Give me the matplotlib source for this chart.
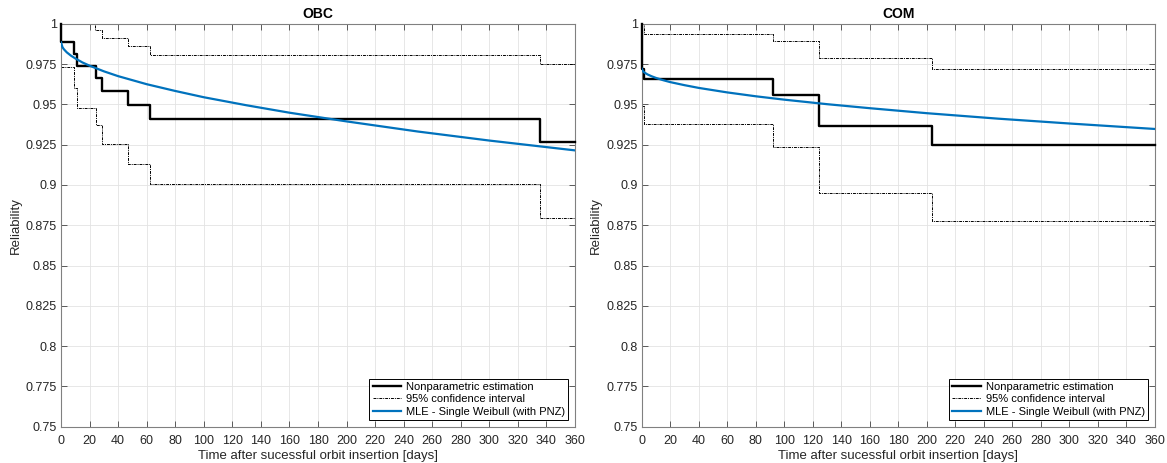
import numpy as np
import matplotlib.pyplot as plt
from matplotlib.ticker import FuncFormatter

plt.rcParams['font.family'] = ['Liberation Sans', 'DejaVu Sans']

# OBC - nonparametric (Kaplan-Meier style) estimate, step times in days
obc_km_t = [0, 0, 9, 11, 24.5, 29, 47, 62, 335.5, 360]
obc_km_r = [1.0, 0.9886, 0.9812, 0.9737, 0.9663, 0.9585, 0.9498, 0.941, 0.927, 0.927]
obc_up_t = [0, 24, 29, 47, 62, 335.5, 360]
obc_up_r = [1.0, 0.996, 0.991, 0.9865, 0.981, 0.975, 0.975]
obc_lo_t = [0, 9, 11, 24.5, 29, 47, 62, 335.5, 360]
obc_lo_r = [0.9733, 0.960, 0.948, 0.937, 0.9254, 0.9133, 0.9008, 0.8796, 0.8796]

# OBC - MLE single Weibull (with PNZ)
obc_fit_t = [0, 1, 2, 4, 7, 10, 15, 20, 30, 40, 60, 80, 100, 130, 160, 200, 250, 300, 360]
obc_fit_r = [0.9886, 0.9856, 0.9843, 0.9824, 0.9803, 0.9786, 0.9761, 0.9741, 0.9706,
             0.9676, 0.9626, 0.9584, 0.9545, 0.9495, 0.9449, 0.9395, 0.9332, 0.9276, 0.9215]

# COM
com_km_t = [0, 0, 1.4, 92.4, 124.4, 203.5, 360]
com_km_r = [1.0, 0.9723, 0.9656, 0.956, 0.9369, 0.9248, 0.9248]
com_up_t = [0, 1.4, 92.4, 124.4, 203.5, 360]
com_up_r = [1.0, 0.9936, 0.9892, 0.9786, 0.9723, 0.9723]
com_lo_t = [0, 1.4, 92.4, 124.4, 203.5, 360]
com_lo_r = [0.949, 0.938, 0.9238, 0.8952, 0.8775, 0.8775]

com_fit_t = [0, 1, 2, 4, 7, 10, 15, 20, 30, 40, 60, 80, 100, 130, 160, 200, 250, 300, 360]
com_fit_r = [0.9723, 0.9705, 0.9698, 0.9687, 0.9675, 0.9665, 0.9651, 0.9639, 0.9620,
             0.9603, 0.9575, 0.9551, 0.9530, 0.9502, 0.9477, 0.9446, 0.9412, 0.9382, 0.9348]

blue = '#0072BD'
ci_style = (0, (3, 1, 1, 1))
txt = '#262626'


def draw(ax, title, km, up, lo, fit):
    ax.step(km[0], km[1], where='post', color='black', lw=1.7, clip_on=False, zorder=4,
            label='Nonparametric estimation')
    ax.step(up[0], up[1], where='post', color='black', lw=0.7, ls=ci_style, clip_on=False,
            label='95% confidence interval')
    ax.step(lo[0], lo[1], where='post', color='black', lw=0.7, ls=ci_style, clip_on=False)
    ax.plot(fit[0], fit[1], color=blue, lw=1.6, zorder=5,
            label='MLE - Single Weibull (with PNZ)')

    ax.set_xlim(0, 360)
    ax.set_ylim(0.75, 1.0)
    ax.set_xticks(np.arange(0, 361, 20))
    ax.set_yticks(np.arange(0.75, 1.0001, 0.025))
    ax.yaxis.set_major_formatter(FuncFormatter(lambda v, p: '%g' % round(v, 3)))
    ax.grid(True, color='#e3e3e3', lw=0.6)
    ax.set_axisbelow(True)
    ax.tick_params(direction='in', top=True, right=True, length=4, width=0.6,
                   labelsize=9, colors=txt, color='#444444', pad=3)
    ax.tick_params(axis='x', pad=6)
    for s in ax.spines.values():
        s.set_color('#808080')
        s.set_linewidth(0.8)
    ax.set_title(title, fontsize=10, fontweight='bold', color='black', pad=4)
    ax.set_xlabel('Time after sucessful orbit insertion [days]', fontsize=9.5, color=txt, labelpad=2)
    ax.set_ylabel('Reliability', fontsize=9.5, color=txt, labelpad=3)
    leg = ax.legend(loc='lower right', fontsize=8, fancybox=False, framealpha=1,
                    edgecolor='black', handlelength=2.6, borderaxespad=0.6,
                    borderpad=0.3, labelspacing=0.2, handletextpad=0.4)
    leg.get_frame().set_linewidth(0.7)


fig = plt.figure(figsize=(11.67, 4.63), dpi=100)
ax1 = fig.add_axes([0.0523, 0.0788, 0.4404, 0.8694])
ax2 = fig.add_axes([0.5499, 0.0788, 0.4396, 0.8694])

draw(ax1, 'OBC', (obc_km_t, obc_km_r), (obc_up_t, obc_up_r), (obc_lo_t, obc_lo_r),
     (obc_fit_t, obc_fit_r))
draw(ax2, 'COM', (com_km_t, com_km_r), (com_up_t, com_up_r), (com_lo_t, com_lo_r),
     (com_fit_t, com_fit_r))

fig.savefig('out.png', dpi=100)
